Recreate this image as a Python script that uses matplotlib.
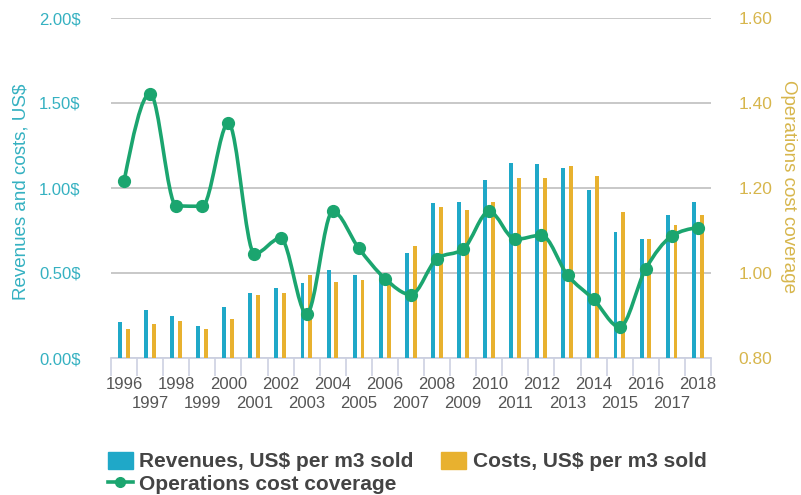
import matplotlib
matplotlib.use("Agg")
import matplotlib.pyplot as plt
import numpy as np
from matplotlib.path import Path
from matplotlib.patches import PathPatch, Patch
from matplotlib.lines import Line2D

years = list(range(1996, 2019))
revenues = [0.21, 0.28, 0.25, 0.19, 0.30, 0.38, 0.41, 0.44, 0.52, 0.49, 0.49, 0.62,
            0.91, 0.92, 1.05, 1.15, 1.14, 1.12, 0.99, 0.74, 0.70, 0.84, 0.92]
costs = [0.17, 0.20, 0.22, 0.17, 0.23, 0.37, 0.38, 0.49, 0.45, 0.46, 0.47, 0.66,
         0.89, 0.87, 0.92, 1.06, 1.06, 1.13, 1.07, 0.86, 0.70, 0.78, 0.84]
coverage = [1.216, 1.422, 1.158, 1.157, 1.353, 1.045, 1.082, 0.904, 1.145, 1.058, 0.987, 0.949,
            1.034, 1.056, 1.145, 1.079, 1.089, 0.995, 0.938, 0.873, 1.010, 1.087, 1.107]
left_ticks = [0.0, 0.5, 1.0, 1.5, 2.0]
right_ticks = [0.8, 1.0, 1.2, 1.4, 1.6]

C_REV = "#1FA8C8"
C_COST = "#E8B12F"
C_LINE = "#1BA56F"
C_LEFT = "#35B1C1"
C_RIGHT = "#D7B64C"
C_GRID = "#C4C4C4"
C_TICK = "#CDD1E2"

plt.rcParams['font.family'] = ['Liberation Sans', 'DejaVu Sans']

fig = plt.figure(figsize=(8.01, 4.95), dpi=100)
ax = fig.add_axes([111/801, 1-358/495, 600/801, (358-18)/495])
ax2 = ax.twinx()

x = np.arange(len(years))
w = 0.15
ax.bar(x - 0.16, revenues, width=w, color=C_REV, zorder=3)
ax.bar(x + 0.14, costs, width=w, color=C_COST, zorder=3)

ax.set_ylim(0, 2)
ax.set_xlim(-0.5, len(years) - 0.5)
ax.set_yticks(left_ticks)
ax.set_yticklabels([f"{v:.2f}$" for v in left_ticks])
ax.grid(axis='y', color=C_GRID, lw=1.3, zorder=0)
ax.set_axisbelow(True)
for s in ['top', 'left', 'right']:
    ax.spines[s].set_visible(False)
ax.spines['bottom'].set_color(C_TICK)
ax.spines['bottom'].set_linewidth(1.3)
ax.tick_params(axis='y', length=0, pad=22, labelcolor=C_LEFT, labelsize=12)

# even years on the first row, odd years on a second row
even_idx = [i for i in range(len(years)) if i % 2 == 0]
odd_idx = [i for i in range(len(years)) if i % 2 == 1]
ax.set_xticks(even_idx)
ax.set_xticklabels([str(years[i]) for i in even_idx])
ax.tick_params(axis='x', which='major', length=0, pad=14, labelcolor="#555555", labelsize=12)
ax.set_xticks(np.arange(-0.5, len(years), 1.0), minor=True)
ax.tick_params(axis='x', which='minor', length=13, width=1.2, color=C_TICK)

sec = ax.secondary_xaxis('bottom')
sec.set_xticks(odd_idx)
sec.set_xticklabels([str(years[i]) for i in odd_idx])
sec.tick_params(axis='x', length=0, pad=27, labelcolor="#555555", labelsize=12)
sec.spines['bottom'].set_visible(False)

ax.set_ylabel("Revenues and costs, US$", color=C_LEFT, fontsize=13.5)
ax.yaxis.set_label_coords(-0.135, 0.49)

ax2.set_ylim(0.8, 1.6)
ax2.set_yticks(right_ticks)
ax2.set_yticklabels([f"{v:.2f}" for v in right_ticks])
ax2.tick_params(axis='y', length=0, pad=20, labelcolor=C_RIGHT, labelsize=12.5)
for s in ['top', 'left', 'right', 'bottom']:
    ax2.spines[s].set_visible(False)
ax2.set_ylabel("Operations cost coverage", color=C_RIGHT, fontsize=13.5, rotation=270, va='center')
ax2.yaxis.set_label_coords(1.13, 0.503)

# monotone cubic curve (Fritsch-Carlson) -> cubic Bezier through the data points
xs = np.asarray(x, dtype=float)
ys = np.asarray(coverage, dtype=float)
n = len(xs)
h = np.diff(xs)
s = np.diff(ys) / h
m = np.zeros(n)
for i in range(1, n - 1):
    p = (s[i - 1] * h[i] + s[i] * h[i - 1]) / (h[i - 1] + h[i])
    m[i] = (np.sign(s[i - 1]) + np.sign(s[i])) * min(abs(s[i - 1]), abs(s[i]), 0.5 * abs(p))
m[0] = (3 * s[0] - m[1]) / 2 if n > 2 else s[0]
m[-1] = (3 * s[-1] - m[-2]) / 2 if n > 2 else s[-1]
verts = [(xs[0], ys[0])]
codes = [Path.MOVETO]
for i in range(n - 1):
    d = h[i] / 3.0
    verts += [(xs[i] + d, ys[i] + m[i] * d), (xs[i + 1] - d, ys[i + 1] - m[i + 1] * d),
              (xs[i + 1], ys[i + 1])]
    codes += [Path.CURVE4] * 3
ax2.add_patch(PathPatch(Path(verts, codes), fill=False, edgecolor=C_LINE, lw=2.6,
                        transform=ax2.transData, zorder=4, capstyle='round', joinstyle='round'))
ax2.plot(xs, ys, 'o', color=C_LINE, markersize=8.5, zorder=5)

handles = [Patch(color=C_REV), Line2D([], [], color=C_LINE, lw=2.6, marker='o', markersize=7),
           Patch(color=C_COST)]
labels = ["Revenues, US$ per m3 sold", "Operations cost coverage", "Costs, US$ per m3 sold"]
leg = fig.legend(handles, labels, ncol=2, loc='upper left', bbox_to_anchor=(94/801, 1-438/495),
                 frameon=False, prop={'weight': 'bold', 'size': 15}, handlelength=1.2,
                 handleheight=0.9, handletextpad=0.33, columnspacing=1.3, labelspacing=0.12,
                 borderpad=0.15)
for t in leg.get_texts():
    t.set_color("#444444")

fig.savefig("out.png", dpi=100)
